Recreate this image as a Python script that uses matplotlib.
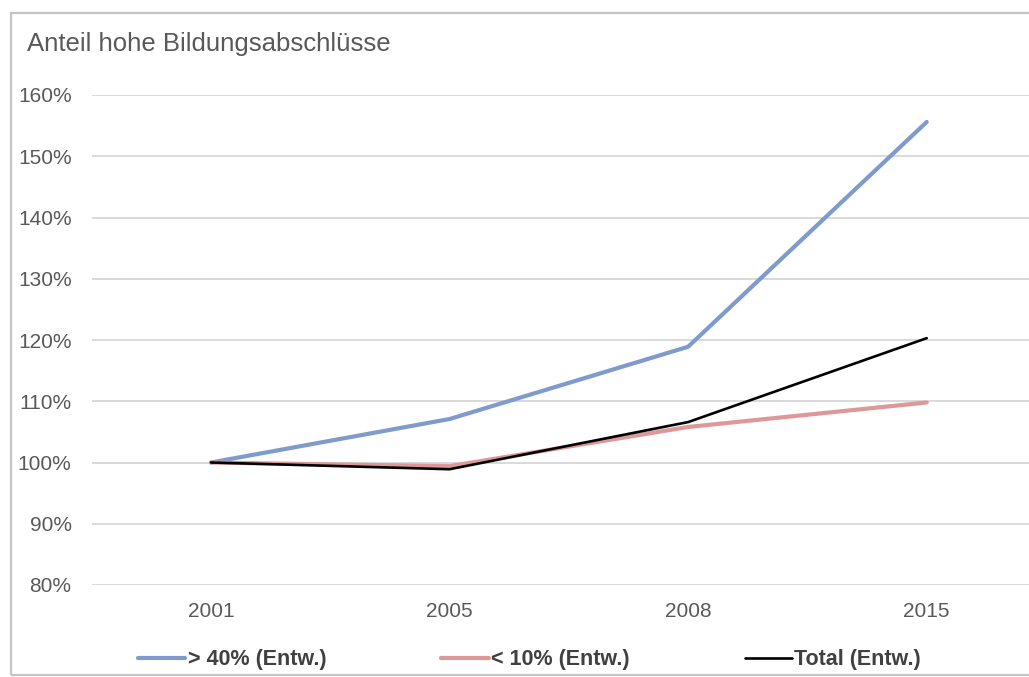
import matplotlib
matplotlib.use("Agg")
import matplotlib.pyplot as plt
from matplotlib.patches import Rectangle
from matplotlib.ticker import PercentFormatter

plt.rcParams["font.family"] = ["Liberation Sans", "DejaVu Sans"]

# Data: share of high educational attainment, indexed to 2001 = 100 %
years = ["2001", "2005", "2008", "2015"]
above_40 = [1.000, 1.071, 1.189, 1.556]
below_10 = [1.000, 0.994, 1.058, 1.098]
total = [1.000, 0.989, 1.066, 1.203]
series_labels = ["> 40% (Entw.)", "< 10% (Entw.)", "Total (Entw.)"]
y_ticks = [0.8, 0.9, 1.0, 1.1, 1.2, 1.3, 1.4, 1.5, 1.6]

W, H = 1029, 677
fig = plt.figure(figsize=(W / 100, H / 100), dpi=100)
fig.patch.set_facecolor("white")

# Chart frame (runs off the right edge)
fig.patches.append(Rectangle((11 / W, 1 - 675 / H), 1.2, (675 - 13) / H,
                             transform=fig.transFigure, fill=False,
                             edgecolor="#C4C4C4", linewidth=1.6, zorder=0))

# Plot area
left_px, right_px = 91.7, 1046.0
top_px, bottom_px = 95.0, 585.0
ax = fig.add_axes([left_px / W, 1 - bottom_px / H,
                   (right_px - left_px) / W, (bottom_px - top_px) / H])
ax.set_facecolor("none")

x = list(range(len(years)))
ax.plot(x, above_40, color="#7F9BCD", linewidth=3.0, solid_capstyle="round",
        solid_joinstyle="round", label=series_labels[0], zorder=3)
ax.plot(x, below_10, color="#DE9898", linewidth=3.0, solid_capstyle="round",
        solid_joinstyle="round", label=series_labels[1], zorder=4)
ax.plot(x, total, color="#000000", linewidth=1.9, solid_capstyle="round",
        solid_joinstyle="round", label=series_labels[2], zorder=5)

ax.set_xlim(-0.5, len(years) - 0.5)
ax.set_ylim(y_ticks[0], y_ticks[-1])
ax.set_xticks(x)
ax.set_xticklabels(years)
ax.set_yticks(y_ticks)
ax.yaxis.set_major_formatter(PercentFormatter(1.0, decimals=0))
ax.grid(axis="y", color="#D9D9D9", linewidth=1.4, zorder=0)
ax.set_axisbelow(True)
for s in ax.spines.values():
    s.set_visible(False)
ax.tick_params(axis="both", length=0, labelsize=15, labelcolor="#595959")
ax.tick_params(axis="y", pad=14.5)
ax.tick_params(axis="x", pad=12.5)

# Chart title inside the frame
fig.text(27 / W, 1 - 51 / H, "Anteil hohe Bildungsabschlüsse",
         fontsize=18.5, color="#595959", va="baseline", ha="left")

# Legend along the bottom
leg = fig.legend(loc="center left", bbox_to_anchor=(138 / W, 1 - 660 / H),
                 ncol=3, frameon=False, borderpad=0, borderaxespad=0,
                 handlelength=2.2, handletextpad=0.1, columnspacing=5.35,
                 prop={"size": 15.5, "weight": "bold"})
for t in leg.get_texts():
    t.set_color("#404040")

fig.savefig("out.png", dpi=100, facecolor="white")
